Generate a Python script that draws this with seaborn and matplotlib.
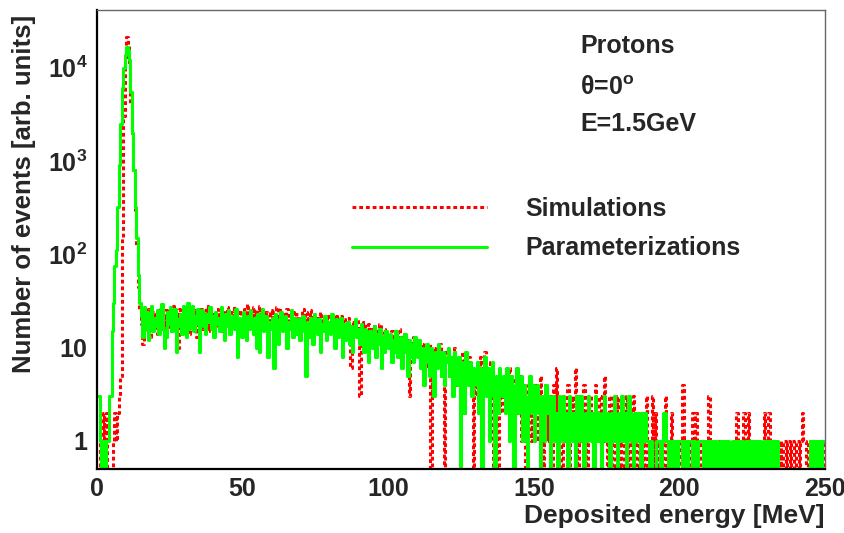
import numpy as np
import pandas as pd
import matplotlib
matplotlib.use("Agg")
import matplotlib.pyplot as plt
import seaborn as sns
from matplotlib.ticker import MultipleLocator, LogLocator, NullFormatter

# Deposited-energy histogram, 0.5 MeV bins from 0 to 250 MeV (20 bins per row)
bin_width = 0.5

# Simulated events per bin
simulations = [
    0, 0, 1, 1, 2, 1, 2, 0, 0, 0, 0, 1, 2, 1, 2, 3, 5, 150, 3000, 12000,
    21500, 17000, 11000, 4000, 1800, 800, 300, 120, 45, 26, 18, 11, 23, 15, 20, 26, 13, 21, 17, 24,
    19, 14, 22, 27, 16, 21, 12, 25, 18, 23, 15, 20, 28, 17, 22, 10, 26, 19, 21, 16,
    24, 18, 22, 14, 27, 20, 17, 25, 13, 21, 19, 26, 16, 23, 20, 28, 15, 22, 18, 24,
    21, 17, 26, 19, 23, 15, 25, 20, 18, 27, 22, 16, 24, 19, 28, 21, 17, 25, 20, 23,
    18, 26, 22, 29, 19, 24, 17, 27, 21, 25, 20, 28, 16, 23, 26, 19, 24, 22, 18, 25,
    21, 24, 19, 27, 17, 22, 25, 18, 23, 20, 26, 15, 22, 19, 24, 21, 17, 23, 20, 18,
    22, 26, 19, 24, 17, 21, 25, 18, 23, 20, 16, 22, 19, 24, 18, 21, 15, 20, 23, 17,
    19, 15, 21, 17, 23, 14, 19, 22, 16, 20, 13, 18, 21, 15, 6, 19, 17, 14, 20, 16,
    3, 17, 13, 19, 15, 11, 18, 14, 16, 12, 17, 10, 15, 13, 18, 9, 14, 16, 11, 15,
    13, 10, 15, 12, 9, 14, 11, 16, 8, 13, 10, 14, 9, 12, 3, 11, 8, 13, 10, 12,
    9, 12, 7, 11, 8, 10, 6, 9, 11, 0, 8, 10, 6, 9, 7, 11, 5, 8, 0, 9,
    7, 9, 5, 8, 6, 10, 4, 7, 8, 5, 6, 9, 2, 7, 5, 8, 4, 6, 0, 5,
    3, 7, 5, 8, 4, 6, 9, 3, 5, 2, 7, 4, 0, 5, 3, 0, 6, 2, 4, 3,
    5, 2, 4, 6, 3, 5, 1, 4, 2, 3, 5, 1, 3, 4, 0, 2, 4, 3, 1, 3,
    2, 4, 1, 3, 5, 2, 0, 3, 4, 1, 2, 3, 0, 4, 2, 6, 1, 3, 2, 0,
    3, 1, 2, 4, 0, 2, 3, 1, 6, 2, 0, 3, 1, 2, 4, 1, 0, 2, 3, 1,
    2, 0, 4, 1, 2, 3, 0, 1, 5, 2, 0, 1, 3, 0, 2, 1, 0, 3, 1, 0,
    2, 1, 0, 3, 1, 0, 2, 1, 3, 0, 1, 2, 0, 1, 2, 0, 1, 3, 0, 1,
    0, 3, 0, 2, 1, 0, 1, 0, 0, 1, 3, 0, 1, 0, 2, 0, 0, 1, 0, 1,
    0, 0, 4, 1, 0, 1, 0, 0, 1, 2, 0, 2, 1, 0, 0, 1, 0, 1, 0, 0,
    3, 1, 0, 1, 0, 0, 1, 0, 0, 1, 0, 0, 1, 0, 1, 0, 0, 1, 0, 2,
    0, 1, 0, 0, 2, 1, 0, 2, 0, 1, 0, 1, 0, 0, 1, 0, 1, 0, 2, 1,
    0, 2, 1, 0, 0, 1, 0, 1, 0, 1, 0, 1, 1, 0, 1, 1, 0, 1, 1, 0,
    1, 1, 0, 1, 2, 1, 1, 0, 1, 1, 0, 1, 0, 0, 1, 0, 0, 1, 0, 1,
]

# Parameterized events per bin
parameterizations = [
    3, 3, 1, 0, 1, 0, 1, 1, 3, 3, 15, 30, 75, 110, 320, 900, 2500, 6000, 10000, 13500,
    16500, 15500, 12000, 5500, 2000, 800, 320, 150, 60, 30, 22, 13, 27, 16, 24, 12, 20, 28, 15, 21,
    17, 25, 14, 22, 29, 16, 10, 13, 24, 18, 27, 15, 21, 26, 9, 20, 17, 23, 14, 28,
    19, 13, 30, 16, 21, 28, 15, 22, 18, 26, 9, 20, 25, 17, 14, 23, 19, 27, 16, 22,
    13, 24, 18, 21, 15, 27, 20, 12, 23, 17, 25, 14, 19, 22, 16, 26, 8, 21, 17, 13,
    24, 18, 12, 22, 16, 25, 19, 14, 21, 10, 23, 9, 20, 26, 15, 18, 22, 8, 19, 16,
    21, 6, 23, 17, 11, 20, 24, 15, 18, 22, 10, 19, 16, 25, 13, 21, 17, 14, 20, 12,
    18, 22, 15, 5, 19, 13, 21, 16, 11, 23, 17, 14, 20, 9, 18, 15, 22, 12, 16, 19,
    14, 23, 17, 10, 20, 13, 16, 21, 8, 18, 12, 15, 19, 11, 17, 9, 14, 20, 13, 16,
    11, 18, 14, 9, 16, 12, 7, 15, 13, 10, 17, 8, 14, 11, 16, 6, 13, 9, 15, 12,
    10, 14, 7, 12, 9, 15, 8, 11, 13, 6, 10, 14, 9, 5, 12, 8, 11, 7, 13, 9,
    8, 12, 6, 10, 4, 9, 11, 7, 5, 10, 8, 3, 9, 6, 11, 7, 5, 9, 4, 8,
    7, 10, 5, 8, 3, 9, 6, 4, 8, 0, 7, 5, 2, 9, 6, 4, 7, 3, 6, 5,
    4, 7, 2, 6, 0, 5, 8, 3, 6, 1, 4, 7, 3, 0, 5, 2, 6, 4, 3, 5,
    2, 6, 4, 1, 5, 3, 0, 4, 6, 2, 3, 5, 1, 4, 2, 0, 3, 5, 2, 4,
    1, 3, 4, 2, 0, 3, 2, 1, 4, 2, 3, 0, 2, 3, 1, 2, 0, 3, 1, 2,
    3, 1, 2, 0, 3, 2, 1, 2, 0, 3, 1, 2, 3, 1, 0, 2, 1, 3, 2, 1,
    2, 0, 3, 1, 2, 1, 0, 2, 3, 1, 2, 1, 0, 2, 1, 3, 1, 0, 2, 1,
    3, 1, 2, 0, 1, 3, 2, 1, 0, 2, 1, 2, 1, 0, 2, 1, 2, 1, 1, 0,
    1, 0, 0, 0, 1, 1, 1, 0, 1, 2, 2, 1, 0, 1, 1, 0, 1, 1, 0, 1,
    1, 1, 0, 1, 1, 0, 1, 1, 1, 0, 1, 0, 0, 1, 1, 1, 0, 1, 0, 0,
    1, 0, 1, 1, 0, 1, 0, 0, 1, 1, 0, 1, 0, 1, 0, 0, 1, 0, 1, 1,
    0, 1, 1, 0, 0, 1, 0, 1, 1, 0, 1, 1, 0, 1, 0, 1, 0, 0, 1, 0,
    1, 0, 1, 1, 0, 1, 0, 1, 0, 0, 0, 0, 0, 0, 0, 0, 0, 0, 0, 0,
    0, 0, 0, 0, 0, 0, 0, 0, 0, 0, 1, 0, 1, 1, 0, 1, 1, 0, 1, 1,
]

series_names = ["Simulations", "Parameterizations"]
y_tick_values = [1, 10, 100, 1000, 10000]
y_tick_labels = ["1", "10", "$10^{2}$", "$10^{3}$", "$10^{4}$"]
info_lines = ["Protons", r"θ=0$^{o}$", "E=1.5GeV"]

bin_centers = (np.arange(len(simulations)) + 0.5) * bin_width
df = pd.concat([
    pd.DataFrame({"energy": bin_centers, "events": simulations, "sample": series_names[0]}),
    pd.DataFrame({"energy": bin_centers, "events": parameterizations, "sample": series_names[1]}),
], ignore_index=True)

sns.set_style("white")
plt.rcParams["font.family"] = ["Liberation Sans", "DejaVu Sans"]
plt.rcParams["font.weight"] = "bold"
plt.rcParams["mathtext.fontset"] = "custom"
plt.rcParams["mathtext.rm"] = "Liberation Sans:bold"
plt.rcParams["mathtext.bf"] = "Liberation Sans:bold"
plt.rcParams["mathtext.it"] = "Liberation Sans:bold"

fig = plt.figure(figsize=(8.45, 5.33), dpi=100)
ax = fig.add_axes([0.1148, 0.1201, 0.8615, 0.8612])

# red simulation drawn first so the green parameterization sits on top
sns.lineplot(
    data=df, x="energy", y="events", hue="sample", style="sample",
    hue_order=series_names, style_order=series_names,
    palette={"Simulations": "#ff0000", "Parameterizations": "#00ff00"},
    dashes={"Simulations": (1.25, 0.95), "Parameterizations": ""},
    linewidth=2.2, drawstyle="steps-mid", estimator=None, legend=False, ax=ax,
)

ax.set_yscale("log")
ax.set_xlim(0, 250)
ax.set_ylim(0.5, 4.15e4)

ax.xaxis.set_major_locator(MultipleLocator(50))
ax.xaxis.set_minor_locator(MultipleLocator(10))
ax.set_yticks(y_tick_values, labels=y_tick_labels)
ax.yaxis.set_minor_locator(LogLocator(base=10, subs=np.arange(2, 10)))
ax.yaxis.set_minor_formatter(NullFormatter())

ax.tick_params(axis="both", which="both", direction="in", top=False, right=False,
               width=0.9, color="black", labelsize=18)
ax.tick_params(axis="x", which="major", length=10, pad=6)
ax.tick_params(axis="x", which="minor", length=5)
ax.tick_params(axis="y", which="major", length=15.5, pad=7)
ax.tick_params(axis="y", which="minor", length=8.5)

for side in ["left", "bottom"]:
    ax.spines[side].set_linewidth(1.6)
    ax.spines[side].set_color("black")
for side in ["top", "right"]:
    ax.spines[side].set_linewidth(1.0)
    ax.spines[side].set_color("#666666")

ax.set_xlabel("Deposited energy [MeV]", fontsize=19, fontweight="bold")
ax.xaxis.set_label_coords(1.0, -0.077)
ax.xaxis.label.set_horizontalalignment("right")
ax.set_ylabel("Number of events [arb. units]", fontsize=18.5, fontweight="bold")
ax.yaxis.label.set_horizontalalignment("right")
ax.yaxis.set_label_coords(-0.084, 0.989)

for text, ypos in zip(info_lines, [0.9057, 0.8148, 0.7364]):
    ax.text(0.6635, ypos, text, transform=ax.transAxes, fontsize=18,
            fontweight="bold", va="baseline", ha="left")

handles = ax.get_lines()[:2]
ax.legend(handles, series_names, loc="upper left", bbox_to_anchor=(0.350, 0.593),
          frameon=False, handlelength=5.4, handletextpad=1.55,
          labelspacing=0.62, borderpad=0, borderaxespad=0,
          prop={"weight": "bold", "size": 18})

fig.savefig("out.png", dpi=100)
